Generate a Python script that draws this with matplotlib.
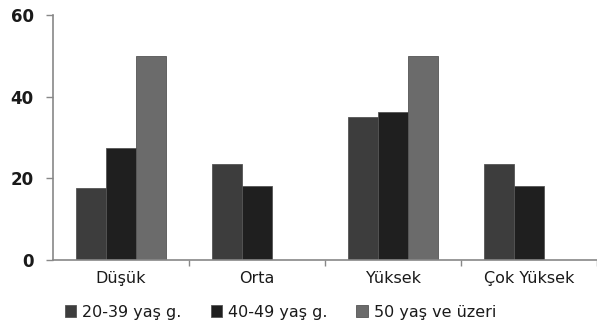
import matplotlib.pyplot as plt
import numpy as np

categories = ['Düşük', 'Orta', 'Yüksek', 'Çok Yüksek']
series_names = ['20-39 yaş g.', '40-49 yaş g.', '50 yaş ve üzeri']
v_20_39 = [17.5, 23.5, 35.0, 23.5]
v_40_49 = [27.4, 18.0, 36.2, 18.0]
v_50_up = [50.0, 0, 50.0, 0]
colors = ['#3d3d3d', '#1f1f1f', '#6b6b6b']

fig = plt.figure(figsize=(5.97, 3.34), dpi=100)
ax = fig.add_axes([0.089, 0.222, 0.911, 0.733])

x = np.arange(len(categories))
w = 0.22
for k, (vals, name, c) in enumerate(zip([v_20_39, v_40_49, v_50_up], series_names, colors)):
    ax.bar(x + (k - 1) * w, vals, width=w, color=c, edgecolor='#555555',
           linewidth=0.6, label=name)

ax.set_xlim(-0.5, 3.47)
ax.set_ylim(0, 60)
ax.set_yticks([0, 20, 40, 60])
ax.set_xticks(x)
ax.set_xticklabels(categories)
ax.set_xticks(np.arange(len(categories)) + 0.5, minor=True)
ax.tick_params(axis='x', which='major', length=0, pad=8, labelsize=11.5)
ax.tick_params(axis='x', which='minor', length=4, color='#888888', width=1)
ax.tick_params(axis='y', length=5, color='#888888', width=1, labelsize=12, pad=9)
for lbl in ax.get_xticklabels():
    lbl.set_color('#1a1a1a')
for lbl in ax.get_yticklabels():
    lbl.set_color('#1a1a1a')
    lbl.set_fontweight('bold')
for s in ['top', 'right']:
    ax.spines[s].set_visible(False)
for s in ['left', 'bottom']:
    ax.spines[s].set_color('#888888')
    ax.spines[s].set_linewidth(1.2)

leg = fig.legend(loc='lower center', bbox_to_anchor=(0.47, 0.0), ncol=3, frameon=False,
                 fontsize=11.5, handlelength=0.7, handleheight=0.7, handletextpad=0.4,
                 columnspacing=1.8)
for t in leg.get_texts():
    t.set_color('#1a1a1a')

fig.savefig('out.png', dpi=100)
